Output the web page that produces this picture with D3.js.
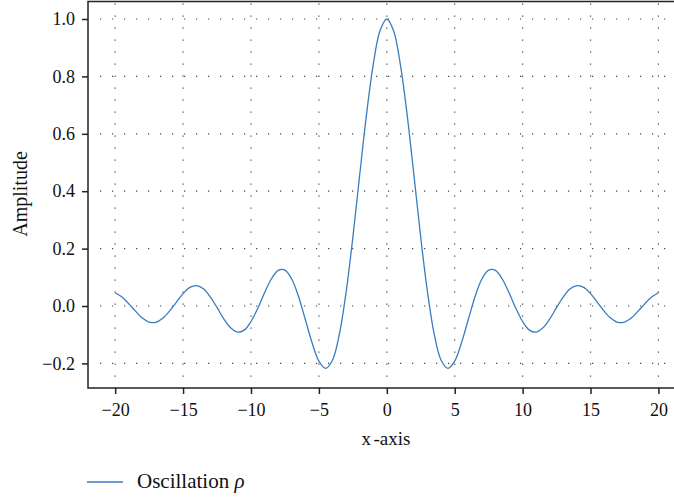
<!DOCTYPE html>
<html>
<head>
<meta charset="utf-8">
<script src="https://cdn.jsdelivr.net/npm/d3@7"></script>
<style>
  body { margin: 0; background: #fff; }
  text { font-family: "Liberation Serif", "DejaVu Serif", serif; fill: #111; }
</style>
</head>
<body>
<div id="chart"></div>
<script>
// values, every 0.5 on x
let xs = [-20, -19.5, -19, -18.5, -18, -17.5, -17, -16.5, -16, -15.5, -15, -14.5, -14, -13.5, -13, -12.5, -12, -11.5, -11, -10.5,
    -10, -9.5, -9, -8.5, -8, -7.5, -7, -6.5, -6, -5.5, -5, -4.5, -4, -3.5, -3, -2.5, -2, -1.5, -1, -0.5,
    0, 0.5, 1, 1.5, 2, 2.5, 3, 3.5, 4, 4.5, 5, 5.5, 6, 6.5, 7, 7.5, 8, 8.5, 9, 9.5,
    10, 10.5, 11, 11.5, 12, 12.5, 13, 13.5, 14, 14.5, 15, 15.5, 16, 16.5, 17, 17.5, 18, 18.5, 19, 19.5, 20];
let amplitude = [0.046, 0.031, 0.008, -0.018, -0.042, -0.056, -0.057, -0.043, -0.018, 0.013, 0.043, 0.065, 0.071, 0.060, 0.032, -0.005, -0.045, -0.076, -0.091, -0.084,
    -0.054, -0.008, 0.046, 0.094, 0.124, 0.125, 0.094, 0.033, -0.047, -0.128, -0.192, -0.217, -0.189, -0.100, 0.047, 0.239, 0.455, 0.665, 0.841, 0.959,
    1.000, 0.959, 0.841, 0.665, 0.455, 0.239, 0.047, -0.100, -0.189, -0.217, -0.192, -0.128, -0.047, 0.033, 0.094, 0.125, 0.124, 0.094, 0.046, -0.008,
    -0.054, -0.084, -0.091, -0.076, -0.045, -0.005, 0.032, 0.060, 0.071, 0.065, 0.043, 0.013, -0.018, -0.043, -0.057, -0.056, -0.042, -0.018, 0.008, 0.031, 0.046];
let xTicks = [-20, -15, -10, -5, 0, 5, 10, 15, 20];
let yTicks = [-0.2, 0.0, 0.2, 0.4, 0.6, 0.8, 1.0];
let seriesName = "Oscillation ";

let width = 674, height = 498;
let plotLeft = 88, plotRight = 685.6, plotTop = 1.5, plotBottom = 388;

let svg = d3.select("#chart").append("svg").attr("width", width).attr("height", height);

let x = d3.scaleLinear().domain([-22, 22]).range([plotLeft, plotRight]);
let y = d3.scaleLinear().domain([-0.2857, 1.061]).range([plotBottom, plotTop]);

// dotted grid
let grid = svg.append("g").attr("stroke", "#444").attr("stroke-width", 1.2).attr("stroke-dasharray", "1.2,10.8");
grid.selectAll("line.gx").data(xTicks).enter().append("line")
    .attr("x1", d => x(d)).attr("x2", d => x(d))
    .attr("y1", plotTop + 2).attr("y2", plotBottom);
grid.selectAll("line.gy").data(yTicks).enter().append("line")
    .attr("x1", plotLeft + 12).attr("x2", width)
    .attr("y1", d => y(d)).attr("y2", d => y(d));

// curve
let line = d3.line().x(d => x(d[0])).y(d => y(d[1])).curve(d3.curveCatmullRom.alpha(0.5));
svg.append("path").datum(d3.zip(xs, amplitude))
    .attr("fill", "none").attr("stroke", "#3a7cc0").attr("stroke-width", 1.3)
    .attr("d", line);

// axes
let xAxis = svg.append("g").attr("transform", `translate(0,${plotBottom})`)
    .call(d3.axisBottom(x).tickValues(xTicks).tickSize(6).tickPadding(9).tickFormat(d3.format("d")));
let yAxis = svg.append("g").attr("transform", `translate(${plotLeft},0)`)
    .call(d3.axisLeft(y).tickValues(yTicks).tickSize(6).tickPadding(7).tickFormat(d3.format(".1f")));
[xAxis, yAxis].forEach(a => {
    a.select(".domain").remove();
    a.selectAll(".tick line").attr("stroke", "#222").attr("stroke-width", 1.5);
    a.selectAll("text").attr("font-size", "18px").attr("fill", "#111")
        .attr("font-family", "Liberation Serif");
});

// frame
svg.append("rect").attr("x", plotLeft).attr("y", plotTop).attr("width", plotRight - plotLeft).attr("height", plotBottom - plotTop)
    .attr("fill", "none").attr("stroke", "#222").attr("stroke-width", 1.5);

// axis titles
let xt = svg.append("text").attr("x", 386).attr("y", 445).attr("text-anchor", "middle")
    .attr("font-size", "19px").text("x");
xt.append("tspan").attr("dx", 2.5).text("-axis");
svg.append("text").attr("transform", "translate(27,194) rotate(-90)").attr("text-anchor", "middle")
    .attr("font-size", "20px").text("Amplitude");

// legend
svg.append("line").attr("x1", 87).attr("x2", 123).attr("y1", 482).attr("y2", 482)
    .attr("stroke", "#3a7cc0").attr("stroke-width", 1.3);
let leg = svg.append("text").attr("x", 137).attr("y", 488).attr("font-size", "21px").text(seriesName);
leg.append("tspan").attr("font-style", "italic").text("ρ");
</script>
</body>
</html>
